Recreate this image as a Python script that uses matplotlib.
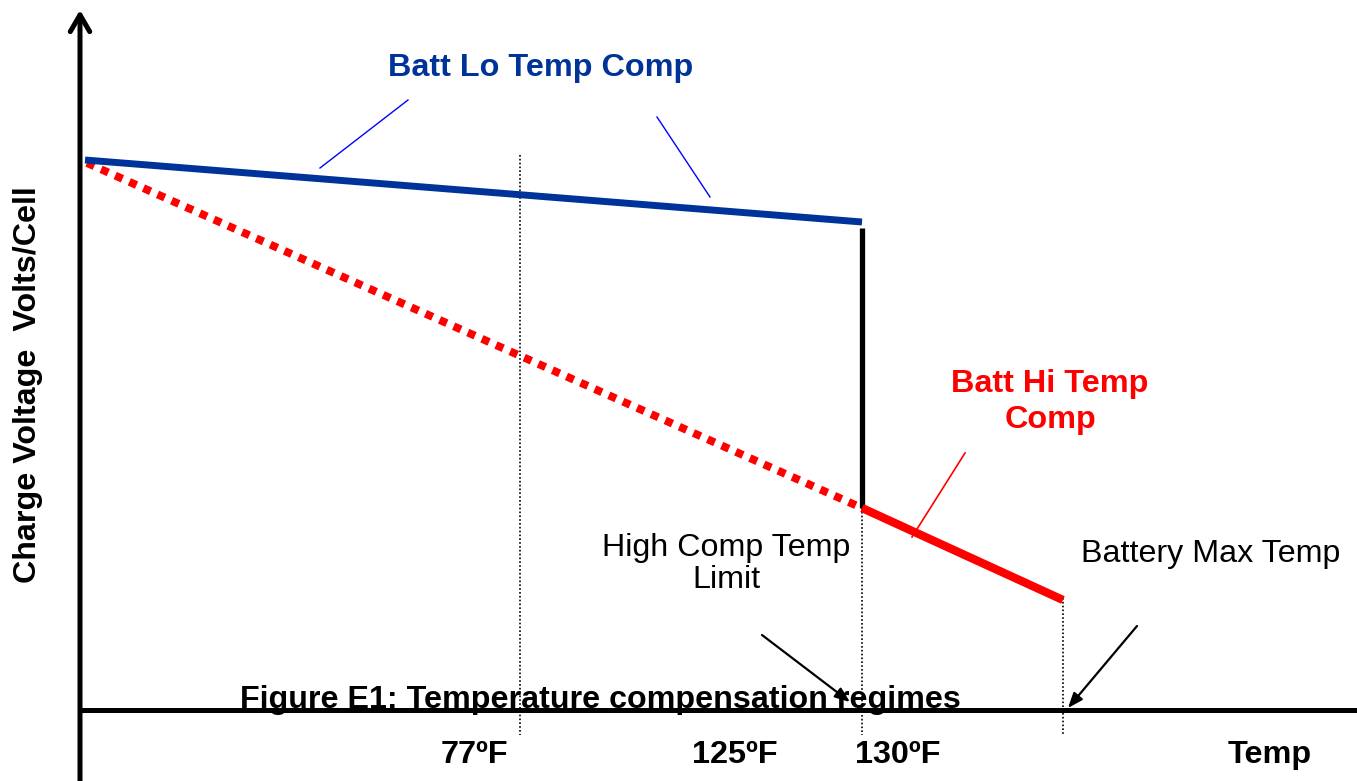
import matplotlib
matplotlib.use("Agg")
import matplotlib.pyplot as plt

plt.rcParams["font.family"] = ["Liberation Sans", "DejaVu Sans"]

# diagram units: x = temperature position, y = charge voltage (arbitrary)
lo_x = [5, 782]
lo_y = [550, 488]
ext_x = [7, 782]
ext_y = [547, 202]
hi_x = [782, 983]
hi_y = [202, 110]
step_x = [782, 782]
step_y = [482, 202]

guide_x = [440, 782, 983]
guide_top = [555, 202, 112]

tick_pos = [394, 655, 818]
tick_labels = ["77ºF", "125ºF", "130ºF"]

BLUE = "#003399"
RED = "#ff0000"

fig = plt.figure(figsize=(13.57, 7.81), dpi=100)
ax = fig.add_axes([0, 0, 1, 1])
ax.set_xlim(-80, 1277)
ax.set_ylim(-71, 710)
ax.axis("off")

# axes
ax.plot([0, 1277], [0, 0], color="black", lw=3.6, solid_capstyle="butt")
ax.annotate("", xy=(0, 700), xytext=(0, -71),
            arrowprops=dict(arrowstyle="->,head_length=1.2,head_width=0.7",
                            color="black", lw=3.6, shrinkA=0, shrinkB=0))

# dotted guides
for gx, gt in zip(guide_x, guide_top):
    ax.plot([gx, gx], [gt, -25], color="black", lw=1.2, ls=(0, (1, 1.3)))

# curves
ax.plot(ext_x, ext_y, color=RED, lw=5.7, ls=(0, (1.0, 0.95)),
        dash_capstyle="butt")
ax.plot(lo_x, lo_y, color=BLUE, lw=5.0, solid_capstyle="butt")
ax.plot(step_x, step_y, color="black", lw=3.8, solid_capstyle="butt")
ax.plot(hi_x, hi_y, color=RED, lw=6.0, solid_capstyle="butt")

# leader lines
ax.plot([240, 328], [542, 610], color="#0000ff", lw=1.0)
ax.plot([630, 577], [513, 593], color="#0000ff", lw=1.0)
ax.plot([832, 885], [173, 257], color=RED, lw=1.2)

arrow = dict(arrowstyle="-|>,head_length=0.9,head_width=0.35",
             color="black", lw=1.6, shrinkA=0, shrinkB=0)
ax.annotate("", xy=(770, 8), xytext=(682, 75), arrowprops=arrow)
ax.annotate("", xy=(988, 2), xytext=(1057, 84), arrowprops=arrow)

# labels
ax.text(461, 642, "Batt Lo Temp Comp", color=BLUE, fontsize=23.3,
        fontweight="bold", ha="center", va="center")
ax.text(970, 308, "Batt Hi Temp\nComp", color=RED, fontsize=23.3,
        fontweight="bold", ha="center", va="center", linespacing=1.3)
ax.text(646, 146, "High Comp Temp\nLimit", color="black", fontsize=23.2,
        ha="center", va="center", linespacing=1.05)
ax.text(1131, 156, "Battery Max Temp", color="black", fontsize=23.2,
        ha="center", va="center")
ax.text(520, 10, "Figure E1: Temperature compensation regimes",
        color="black", fontsize=23.2, fontweight="bold",
        ha="center", va="center")
for tx, tl in zip(tick_pos, tick_labels):
    ax.text(tx, -45, tl, fontsize=23.3, fontweight="bold",
            ha="center", va="center")
ax.text(1190, -45, "Temp", fontsize=23.3, fontweight="bold",
        ha="center", va="center")
ax.text(-52, 325, "Charge Voltage  Volts/Cell", fontsize=23.2,
        fontweight="bold", rotation=90, ha="center", va="center")

fig.savefig("out.png", dpi=100)
